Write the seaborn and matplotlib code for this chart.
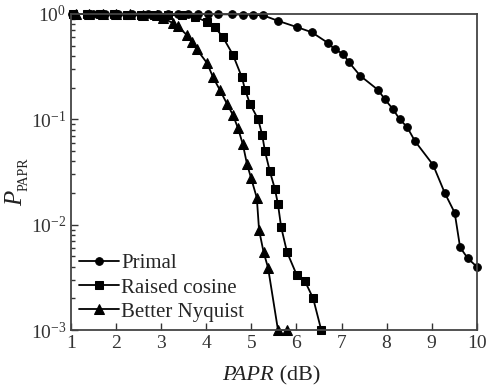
import numpy as np
import pandas as pd
import seaborn as sns
import matplotlib
matplotlib.use("Agg")
import matplotlib.pyplot as plt

# data (PAPR in dB, CCDF)
primal_x = [1.02, 1.49, 1.75, 2.04, 2.35, 2.71, 2.93, 3.15, 3.37, 3.59, 3.82, 4.04,
            4.26, 4.57, 4.81, 5.04, 5.26, 5.59, 6.01, 6.34, 6.70, 6.85, 7.03, 7.16,
            7.41, 7.81, 7.96, 8.14, 8.29, 8.45, 8.63, 9.03, 9.29, 9.51, 9.63, 9.80, 10.0]
primal_y = [1.0, 1.0, 1.0, 1.0, 1.0, 1.0, 1.0, 0.999, 0.999, 0.998, 0.997, 0.995,
            0.993, 0.99, 0.985, 0.98, 0.97, 0.86, 0.75, 0.67, 0.53, 0.46, 0.42, 0.35,
            0.26, 0.19, 0.155, 0.125, 0.10, 0.085, 0.062, 0.037, 0.020, 0.013, 0.0061,
            0.0048, 0.0040]

raised_x = [1.05, 1.35, 1.65, 1.95, 2.25, 2.55, 2.85, 3.15, 3.45, 3.75, 4.02, 4.19,
            4.37, 4.59, 4.79, 4.86, 4.97, 5.15, 5.24, 5.30, 5.41, 5.52, 5.59, 5.66,
            5.79, 6.01, 6.19, 6.37, 6.55]
raised_y = [1.0, 1.0, 0.995, 0.99, 0.985, 0.98, 0.98, 0.975, 0.97, 0.94, 0.84, 0.75,
            0.60, 0.41, 0.25, 0.19, 0.14, 0.10, 0.071, 0.050, 0.032, 0.022, 0.0156,
            0.0095, 0.0055, 0.0033, 0.0029, 0.0020, 0.001]

nyq_x = [1.1, 1.4, 1.7, 2.0, 2.3, 2.6, 2.91, 3.04, 3.26, 3.37, 3.57, 3.68, 3.79,
         4.02, 4.15, 4.30, 4.46, 4.59, 4.70, 4.81, 4.90, 4.99, 5.12, 5.17, 5.27,
         5.37, 5.59, 5.79]
nyq_y = [1.0, 1.0, 1.0, 0.995, 0.99, 0.985, 0.97, 0.91, 0.82, 0.76, 0.63, 0.54, 0.46,
         0.34, 0.25, 0.19, 0.14, 0.11, 0.083, 0.058, 0.038, 0.028, 0.018, 0.0089,
         0.0055, 0.0039, 0.001, 0.001]

sns.set_style("ticks")
plt.rcParams["font.family"] = ["Liberation Serif", "DejaVu Serif"]
plt.rcParams["mathtext.fontset"] = "custom"
plt.rcParams["mathtext.rm"] = "Liberation Serif"
plt.rcParams["mathtext.it"] = "Liberation Serif:italic"
plt.rcParams["mathtext.bf"] = "Liberation Serif:bold"

fig = plt.figure(figsize=(4.87, 3.87), dpi=100)
ax = fig.add_axes([0.146, 0.147, 0.833, 0.817])

series = [("Primal", primal_x, primal_y, "o", 5.5),
          ("Raised cosine", raised_x, raised_y, "s", 5.5),
          ("Better Nyquist", nyq_x, nyq_y, "^", 6.5)]
for name, xs, ys, mk, ms in series:
    sns.lineplot(x=xs, y=ys, ax=ax, color="black", marker=mk, markersize=ms,
                 markeredgecolor="black", linewidth=1.3, label=name,
                 estimator=None, sort=False, clip_on=False)

ax.set_yscale("log")
ax.set_xlim(1, 10)
ax.set_ylim(1e-3, 1)
ax.set_xticks(range(1, 11))

ax.tick_params(axis="both", which="both", direction="in", top=False, right=False,
               labelsize=14, colors="#333333")
ax.tick_params(axis="both", which="major", length=5, width=1)
ax.tick_params(axis="y", which="minor", length=3, width=1)
for sp in ax.spines.values():
    sp.set_linewidth(1.3)
    sp.set_color("#444444")

# italic quantity names, upright units
ax.set_xlabel("")
ax.set_ylabel("")
ax.text(0.5, -0.115, "PAPR", transform=ax.transAxes, fontsize=16, style="italic",
        ha="right", va="top", color="#222222")
ax.text(0.5, -0.115, " (dB)", transform=ax.transAxes, fontsize=16,
        ha="left", va="top", color="#222222")
ax.text(-0.135, 0.44, "P", transform=ax.transAxes, fontsize=18, style="italic",
        rotation=90, ha="center", va="top", color="#222222")
ax.text(-0.115, 0.44, "PAPR", transform=ax.transAxes, fontsize=10,
        rotation=90, ha="center", va="bottom", color="#222222")

leg = ax.legend(loc="lower left", frameon=False, fontsize=15, handlelength=1.9,
                handletextpad=0.1, labelspacing=0.22, borderaxespad=0.1,
                borderpad=0.3)

fig.savefig("out.png", dpi=100)
